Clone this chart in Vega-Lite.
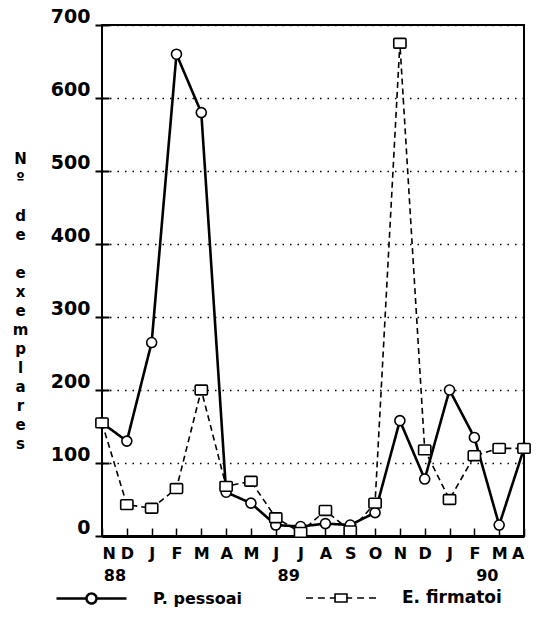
{
  "$schema": "https://vega.github.io/schema/vega-lite/v6.json",
  "width": 422,
  "height": 511,
  "autosize": "none",
  "padding": {"left": 102, "top": 25, "right": 36, "bottom": 104},
  "background": "white",
  "config": {
    "font": "DejaVu Sans",
    "view": {"stroke": "black", "strokeWidth": 2},
    "axis": {"labelFont": "DejaVu Sans", "labelFontWeight": "bold", "labelColor": "black", "titleColor": "black", "domainColor": "black", "tickColor": "black", "titleFont": "DejaVu Sans"},
    "legend": {"labelFont": "DejaVu Sans", "labelFontWeight": "bold", "labelColor": "black", "padding": 0}
  },
  "datasets": {
    "d": [
      {"i": 0, "especie": "P. pessoai", "n": 155},
      {"i": 1, "especie": "P. pessoai", "n": 130},
      {"i": 2, "especie": "P. pessoai", "n": 265},
      {"i": 3, "especie": "P. pessoai", "n": 660},
      {"i": 4, "especie": "P. pessoai", "n": 580},
      {"i": 5, "especie": "P. pessoai", "n": 60},
      {"i": 6, "especie": "P. pessoai", "n": 45},
      {"i": 7, "especie": "P. pessoai", "n": 15},
      {"i": 8, "especie": "P. pessoai", "n": 13},
      {"i": 9, "especie": "P. pessoai", "n": 17},
      {"i": 10, "especie": "P. pessoai", "n": 15},
      {"i": 11, "especie": "P. pessoai", "n": 32},
      {"i": 12, "especie": "P. pessoai", "n": 158},
      {"i": 13, "especie": "P. pessoai", "n": 78},
      {"i": 14, "especie": "P. pessoai", "n": 200},
      {"i": 15, "especie": "P. pessoai", "n": 135},
      {"i": 16, "especie": "P. pessoai", "n": 15},
      {"i": 17, "especie": "P. pessoai", "n": 120},
      {"i": 0, "especie": "E. firmatoi", "n": 155},
      {"i": 1, "especie": "E. firmatoi", "n": 43},
      {"i": 2, "especie": "E. firmatoi", "n": 38},
      {"i": 3, "especie": "E. firmatoi", "n": 65},
      {"i": 4, "especie": "E. firmatoi", "n": 200},
      {"i": 5, "especie": "E. firmatoi", "n": 68},
      {"i": 6, "especie": "E. firmatoi", "n": 75},
      {"i": 7, "especie": "E. firmatoi", "n": 25},
      {"i": 8, "especie": "E. firmatoi", "n": 5},
      {"i": 9, "especie": "E. firmatoi", "n": 35},
      {"i": 10, "especie": "E. firmatoi", "n": 7},
      {"i": 11, "especie": "E. firmatoi", "n": 45},
      {"i": 12, "especie": "E. firmatoi", "n": 675},
      {"i": 13, "especie": "E. firmatoi", "n": 118},
      {"i": 14, "especie": "E. firmatoi", "n": 50},
      {"i": 15, "especie": "E. firmatoi", "n": 110},
      {"i": 16, "especie": "E. firmatoi", "n": 120},
      {"i": 17, "especie": "E. firmatoi", "n": 120}
    ]
  },
  "data": {"name": "d"},
  "encoding": {
    "y": {
      "field": "n",
      "type": "quantitative",
      "scale": {"domain": [0, 700], "nice": false},
      "axis": {
        "values": [0, 100, 200, 300, 400, 500, 600, 700],
        "domain": false,
        "tickSize": 14,
        "offset": -7,
        "tickWidth": 2,
        "labelFontSize": 19,
        "labelPadding": 5,
        "labelOffset": -9,
        "grid": true,
        "gridDash": [1.5, 6],
        "gridColor": "black",
        "gridWidth": 1.4,
        "title": ["N", "º", "\u200b", "d", "e", "\u200b", "e", "x", "e", "m", "p", "l", "a", "r", "e", "s"],
        "titleAngle": 0,
        "titleFontSize": 15,
        "titleFontWeight": "bold",
        "titleLineHeight": 19,
        "titleX": -89,
        "titleY": 126,
        "titleAlign": "center",
        "titleBaseline": "top"
      }
    }
  },
  "layer": [
    {
      "mark": {"type": "line", "color": "black"},
      "encoding": {
        "x": {
          "field": "i",
          "type": "quantitative",
          "scale": {"domain": [0, 17], "nice": false, "zero": false},
          "axis": {
            "orient": "bottom",
            "values": [0, 1, 2, 3, 4, 5, 6, 7, 8, 9, 10, 11, 12, 13, 14, 15, 16, 17],
            "labelExpr": "['N','D','J','F','M','A','M','J','J','A','S','O','N','D','J','F','M','A'][datum.value]",
            "tickSize": -8,
            "tickWidth": 1.5,
            "domainWidth": 3,
            "labelFontSize": 16,
            "labelPadding": 17,
            "labelBaseline": "top",
            "grid": false,
            "title": null
          }
        },
        "strokeDash": {
          "field": "especie",
          "type": "nominal",
          "scale": {"domain": ["P. pessoai", "E. firmatoi"], "range": [[1, 0], [6, 4]]},
          "legend": {
            "title": null,
            "orient": "none",
            "values": ["P. pessoai"],
            "legendX": -47,
            "legendY": 537,
            "symbolType": "M-1,0H-0.143M0.143,0H1M0.143,0A0.143,0.143 0 1 1 -0.143,0A0.143,0.143 0 1 1 0.143,0",
            "symbolSize": 4900,
            "symbolStrokeColor": "black",
            "symbolFillColor": "white",
            "symbolStrokeWidth": 2.5,
            "labelFontSize": 16,
            "labelOffset": 25
          }
        },
        "strokeWidth": {
          "field": "especie",
          "type": "nominal",
          "scale": {"domain": ["E. firmatoi", "P. pessoai"], "range": [1.6, 2.6]},
          "legend": {
            "title": null,
            "orient": "none",
            "values": ["E. firmatoi"],
            "legendX": 203,
            "legendY": 537,
            "symbolType": "M-1,0H-0.8M-0.66,0H-0.46M-0.32,0H-0.17M0.17,0H0.32M0.46,0H0.66M0.8,0H1M-0.17,-0.115H0.17V0.115H-0.17Z",
            "symbolSize": 4900,
            "symbolStrokeColor": "black",
            "symbolFillColor": "white",
            "symbolDash": [1, 0],
            "labelFontSize": 17,
            "labelOffset": 25
          }
        }
      }
    },
    {
      "transform": [{"filter": "datum.especie === 'P. pessoai'"}],
      "mark": {"type": "point", "shape": "circle", "size": 100, "filled": false, "fill": "white", "stroke": "black", "strokeWidth": 1.6, "opacity": 1, "fillOpacity": 1},
      "encoding": {
        "x": {
          "field": "i",
          "type": "quantitative",
          "axis": {
            "orient": "bottom",
            "values": [0.5, 7.5, 15.5],
            "labelExpr": "datum.value < 1 ? '88' : datum.value < 8 ? '89' : '90'",
            "ticks": false,
            "domain": false,
            "grid": false,
            "labelFontSize": 16,
            "labelPadding": 31,
            "labelBaseline": "top",
            "title": null
          }
        }
      }
    },
    {
      "transform": [{"filter": "datum.especie === 'E. firmatoi'"}],
      "mark": {"type": "point", "shape": "M-1,-0.62Q-1,-0.8 -0.82,-0.8H0.82Q1,-0.8 1,-0.62V0.62Q1,0.8 0.82,0.8H-0.82Q-1,0.8 -1,0.62Z", "size": 150, "filled": false, "fill": "white", "stroke": "black", "strokeWidth": 1.6, "opacity": 1, "fillOpacity": 1},
      "encoding": {
        "x": {"field": "i", "type": "quantitative", "axis": null}
      }
    }
  ],
  "resolve": {"axis": {"x": "independent"}}
}
